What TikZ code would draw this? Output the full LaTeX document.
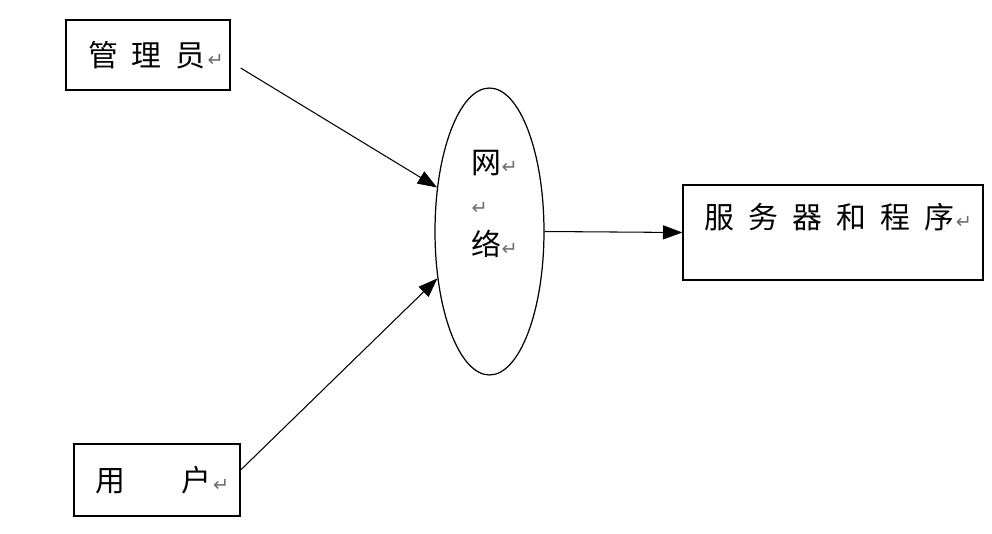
\documentclass[tikz,border=0pt]{standalone}
\usepackage{fontspec}
\newfontfamily\cjk{Noto Sans CJK SC}
\newfontfamily\retfont{DejaVu Sans}
\usepackage{tikz}
\usetikzlibrary{arrows.meta,shapes.geometric,positioning}
\usepackage{xcolor}
\definecolor{markgray}{RGB}{110,110,110}
\newcommand{\retmark}{{\retfont\fontsize{11}{11}\selectfont\textcolor{markgray}{↵}}}
\newcommand{\cjkgap}{\hspace{8pt}}
\tikzstyle{entity} = [rectangle, draw=black, line width=0.8pt, inner sep=0pt, font=\cjk\fontsize{17}{20}\selectfont]
\tikzstyle{hub} = [ellipse, draw=black, line width=0.7pt, inner sep=0pt]
\tikzstyle{arrow} = [line width=0.6pt, -{Triangle[length=11pt,width=8pt]}]

\begin{document}
\begin{tikzpicture}[x=0.02cm, y=-0.02cm]
\useasboundingbox (0,0) rectangle (992,534);
% Boxes
\node[entity, minimum width=3.28cm, minimum height=1.4cm] (admin) at (148,55) {
\hspace{9pt}管\cjkgap 理\cjkgap 员\hspace{1pt}\retmark
};
\node[entity, minimum width=3.32cm, minimum height=1.44cm] (user) at (157,480) {
\hspace{6pt}用\hspace{32pt}户\hspace{1pt}\retmark
};
\node[entity, minimum width=6cm, minimum height=1.9cm, text height=14pt, text depth=18pt] (server) at (833,232.5) {
\hspace{6pt}服\cjkgap 务\cjkgap 器\cjkgap 和\cjkgap 程\cjkgap 序\hspace{1pt}\retmark
};

% Network
\node[hub, minimum width=2.18cm, minimum height=5.74cm] (net) at (489.5,231.5) {};
\node[font=\cjk\fontsize{17}{23.5}\selectfont, align=left, inner sep=0pt] (netlabel) at ([xshift=3pt, yshift=15.6pt]net.center) {
网\retmark\\ \retmark\\ 络\retmark
};

% Arrows
\draw[arrow] ([shift={(10,13)}]admin.east) -- (net.140);
\draw[arrow] ([shift={(0,-10)}]user.east) -- (net.222);
\draw[arrow] (net.east) -- (server.west);
\end{tikzpicture}
\end{document}
